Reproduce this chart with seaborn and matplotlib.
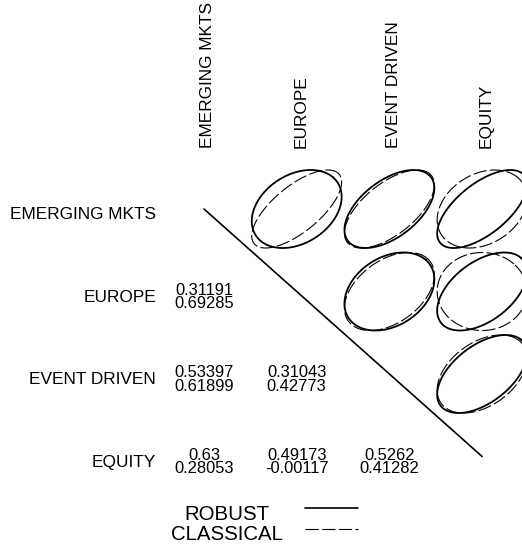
import numpy as np
import pandas as pd
import matplotlib
matplotlib.use("Agg")
import matplotlib.pyplot as plt
import seaborn as sns

# variables and pairwise correlations (lower triangle, row > col)
names = ["EMERGING MKTS", "EUROPE", "EVENT DRIVEN", "EQUITY"]
pair_rows = [1, 2, 2, 3, 3, 3]
pair_cols = [0, 0, 1, 0, 1, 2]
robust = [0.31191, 0.53397, 0.31043, 0.63, 0.49173, 0.5262]
classical = [0.69285, 0.61899, 0.42773, 0.28053, -0.00117, 0.41282]
methods = ["ROBUST", "CLASSICAL"]

sns.set_style("white")
plt.rcParams["font.family"] = ["Liberation Sans", "DejaVu Sans"]
plt.rcParams["text.color"] = "black"

# layout in pixels
W, H = 522, 547
x0, dx = 204, 92.7     # centre of first column, column step
y0, dy = 209, 82.5     # centre of first row, row step
hw, hh = 0.485, 0.473  # ellipse half size, in cell units


def px(x):
    return (x - x0) / dx


def py(y):
    return (y - y0) / dy


# ellipse outlines, one per pair and method
t = np.linspace(0, 2 * np.pi, 241)
recs = []
for k, (r, c) in enumerate(zip(pair_rows, pair_cols)):
    for m, val in zip(methods, [robust[k], classical[k]]):
        d = np.arccos(val)
        recs.append(pd.DataFrame({
            "x": r + hw * np.cos(t + d / 2),
            "y": c - hh * np.cos(t - d / 2),
            "pair": k, "method": m,
        }))
df = pd.concat(recs, ignore_index=True)

fig = plt.figure(figsize=(W / 100, H / 100), dpi=100)
ax = fig.add_axes([0, 0, 1, 1])

sns.lineplot(data=df[df.method == "ROBUST"], x="x", y="y", units="pair",
             estimator=None, sort=False, color="black", lw=1.3, ax=ax)
sns.lineplot(data=df[df.method == "CLASSICAL"], x="x", y="y", units="pair",
             estimator=None, sort=False, color="black", lw=0.8,
             linestyle=(0, (12, 3)), ax=ax)

n = len(names)
ax.plot([0, n - 1], [0, n - 1], color="black", lw=1.2)

# labels
for i, nm in enumerate(names):
    ax.text(px(156), i + 10 / dy, nm, ha="right", va="baseline", fontsize=12.4)
    ax.text(i + 4 / dx, py(148), nm, ha="center", va="bottom",
            rotation=90, fontsize=12.4)

# correlation values
for k, (r, c) in enumerate(zip(pair_rows, pair_cols)):
    ax.text(c, r + 3 / dy, str(robust[k]), ha="center", va="baseline",
            fontsize=11.9)
    ax.text(c, r + 16.5 / dy, str(classical[k]), ha="center", va="baseline",
            fontsize=11.9)

# legend
ax.text(px(227), py(520), "ROBUST", ha="center", va="baseline", fontsize=14.7)
ax.text(px(227), py(540), "CLASSICAL", ha="center", va="baseline", fontsize=14.7)
ax.plot([px(305), px(358)], [py(508), py(508)], color="black", lw=1.2)
ax.plot([px(305), px(358)], [py(529), py(529)], color="black", lw=0.8,
        linestyle=(0, (12, 3)))

ax.set_xlim(px(0), px(W))
ax.set_ylim(py(H), py(0))
ax.set_axis_off()

fig.savefig("out.png", dpi=100)
